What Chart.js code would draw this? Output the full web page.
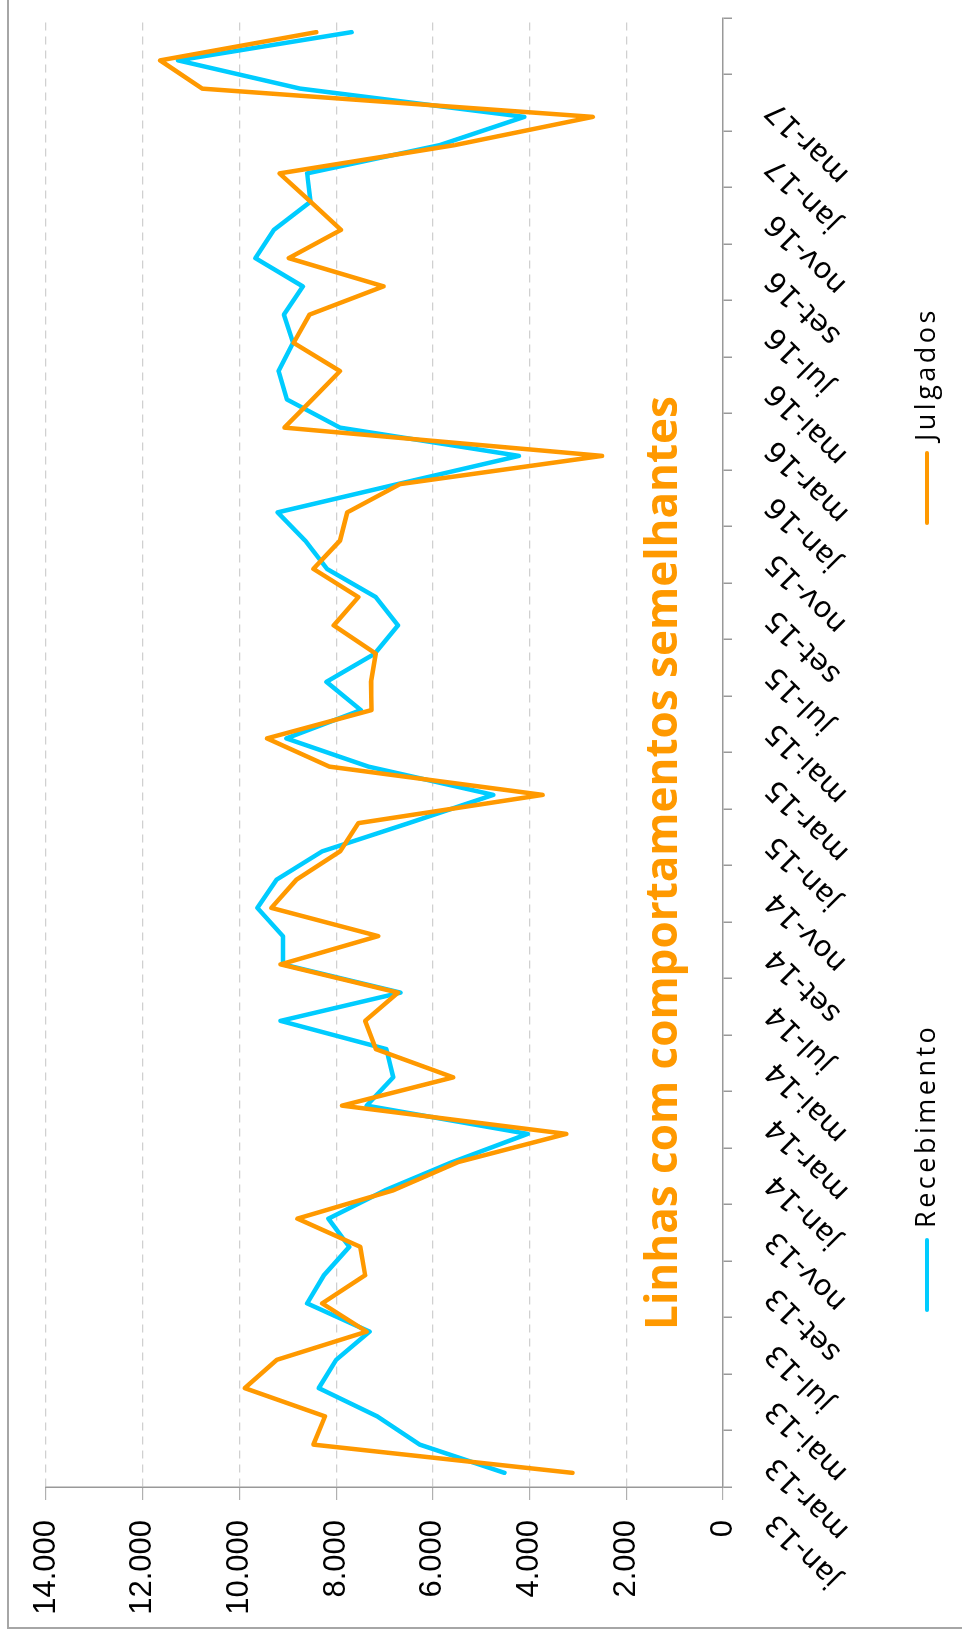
<!DOCTYPE html>
<html>
<head>
<meta charset="utf-8">
<script src="https://cdn.jsdelivr.net/npm/chart.js@4.4.1/dist/chart.umd.min.js"></script>
<style>
  html, body { margin: 0; padding: 0; background: #fff; overflow: hidden; }
  /* chart is drawn landscape, then turned a quarter to the left */
  #wrap {
    position: absolute; left: 0; top: 0;
    width: 1639px; height: 962px;
    transform-origin: 0 0;
    transform: translate(0, 1639px) rotate(-90deg);
  }
</style>
</head>
<body>
<div id="wrap"><canvas id="myChart" width="1639" height="962"></canvas></div>
<script>
const months = [
  "jan-13", "fev-13", "mar-13", "abr-13", "mai-13", "jun-13", "jul-13", "ago-13", "set-13", "out-13", "nov-13", "dez-13",
  "jan-14", "fev-14", "mar-14", "abr-14", "mai-14", "jun-14", "jul-14", "ago-14", "set-14", "out-14", "nov-14", "dez-14",
  "jan-15", "fev-15", "mar-15", "abr-15", "mai-15", "jun-15", "jul-15", "ago-15", "set-15", "out-15", "nov-15", "dez-15",
  "jan-16", "fev-16", "mar-16", "abr-16", "mai-16", "jun-16", "jul-16", "ago-16", "set-16", "out-16", "nov-16", "dez-16",
  "jan-17", "fev-17", "mar-17", "abr-17",
];

const recebimento = [
  4520, 6270, 7150, 8360, 8000, 7310, 8600, 8250, 7730, 8160, 6990, 5600,
  4040, 7370, 6820, 6960, 9150, 6670, 9100, 9100, 9630, 9230, 8290, 6500,
  4750, 7330, 9030, 7490, 8200, 7200, 6720, 7180, 8190, 8640, 9210, 6730,
  4220, 7920, 9020, 9190, 8890, 9080, 8690, 9670, 9290, 8530, 8600, 5860,
  4110, 8740, 11270, 7680,
];

const julgados = [
  3110, 8470, 8230, 9890, 9230, 7370, 8290, 7400, 7500, 8800, 6820, 5480,
  3240, 7880, 5580, 7180, 7400, 6720, 9150, 7130, 9340, 8820, 7920, 7540,
  3730, 8140, 9430, 7270, 7280, 7180, 8050, 7540, 8470, 7920, 7770, 6680,
  2500, 9070, 8490, 7920, 8880, 8550, 7020, 8980, 7900, 8530, 9170, 5550,
  2690, 10770, 11640, 8410,
];

const valueTickLabels = ["0", "2.000", "4.000", "6.000", "8.000", "10.000", "12.000", "14.000"];

const chartTitle = "Linhas com comportamentos semelhantes";

const blue = "rgb(0, 204, 255)";
const orange = "rgb(255, 153, 0)";

// frame, title in the plot and the widely spaced legend
const extras = {
  id: "extras",
  beforeDraw(chart) {
    const ctx = chart.ctx;
    ctx.save();
    ctx.fillStyle = "#fff";
    ctx.fillRect(0, 0, chart.width, chart.height);
    ctx.strokeStyle = "#a6a6a6";
    ctx.lineWidth = 2;
    ctx.beginPath();
    ctx.moveTo(11, chart.height);
    ctx.lineTo(11, 8);
    ctx.lineTo(chart.width, 8);
    ctx.stroke();
    ctx.restore();
  },
  afterDraw(chart) {
    const ctx = chart.ctx;
    ctx.save();
    ctx.font = "bold 44px 'Open Sans'";
    ctx.fillStyle = orange;
    ctx.textAlign = "center";
    ctx.textBaseline = "alphabetic";
    ctx.fillText(chartTitle, 776, 677);

    const legendX = [329, 1116];
    ctx.font = "27px 'Open Sans'";
    ctx.letterSpacing = "3.5px";
    ctx.textAlign = "left";
    ctx.textBaseline = "middle";
    chart.data.datasets.forEach((ds, i) => {
      const x = legendX[i];
      ctx.strokeStyle = ds.borderColor;
      ctx.lineWidth = 4;
      ctx.lineCap = "round";
      ctx.beginPath();
      ctx.moveTo(x, 927);
      ctx.lineTo(x + 70, 927);
      ctx.stroke();
      ctx.fillStyle = "#000";
      ctx.fillText(ds.label, x + 82, 927);
    });
    ctx.restore();
  },
};

const data = {
  labels: months,
  datasets: [
    {
      label: "Recebimento",
      data: recebimento,
      borderColor: blue,
      backgroundColor: blue,
      borderWidth: 4.5,
      pointRadius: 0,
      order: 1,
    },
    {
      label: "Julgados",
      data: julgados,
      borderColor: orange,
      backgroundColor: orange,
      borderWidth: 4.5,
      pointRadius: 0,
      order: 0,
    },
  ],
};

const config = {
  type: "line",
  data: data,
  options: {
    responsive: false,
    animation: false,
    devicePixelRatio: 1,
    layout: { padding: { top: 46, right: 18, left: 0, bottom: 0 } },
    elements: {
      line: { tension: 0, borderCapStyle: "round", borderJoinStyle: "round" },
    },
    plugins: {
      legend: { display: false },
      tooltip: { enabled: false },
    },
    scales: {
      x: {
        offset: true,
        grid: {
          offset: true,
          drawOnChartArea: false,
          tickLength: 9,
          lineWidth: 1.5,
          color: (c) => (c.index === undefined || c.index % 2 === 0 ? "#999" : "rgba(0,0,0,0)"),
        },
        border: { color: "#999", width: 1.5 },
        ticks: {
          autoSkip: false,
          minRotation: 45,
          maxRotation: 45,
          padding: 27,
          labelOffset: -45,
          color: "#000",
          font: { family: "'DejaVu Sans'", size: 29 },
          callback: (v, i) => (i % 2 === 0 ? months[i] : ""),
        },
        afterFit: (s) => {
          s.height = 239;
          s.paddingLeft = 0;
          s.paddingRight = 0;
        },
      },
      y: {
        min: 0,
        max: 14000,
        grid: {
          color: (c) => (c.tick && c.tick.value === 0 ? "rgba(0,0,0,0)" : "#d0d0d0"),
          lineWidth: 1.2,
          tickLength: 13,
          tickColor: "#b0b0b0",
          tickBorderDash: [],
        },
        border: { color: "#999", width: 1.5, dash: [8, 6] },
        ticks: {
          stepSize: 2000,
          padding: 20,
          color: "#000",
          font: { family: "'Liberation Sans'", size: 31 },
          callback: (v) => valueTickLabels[v / 2000],
        },
        afterFit: (s) => {
          s.width = 152;
          s.paddingTop = 0;
          s.paddingBottom = 0;
        },
      },
    },
  },
  plugins: [extras],
};

const myChart = new Chart(document.getElementById("myChart"), config);
</script>
</body>
</html>
